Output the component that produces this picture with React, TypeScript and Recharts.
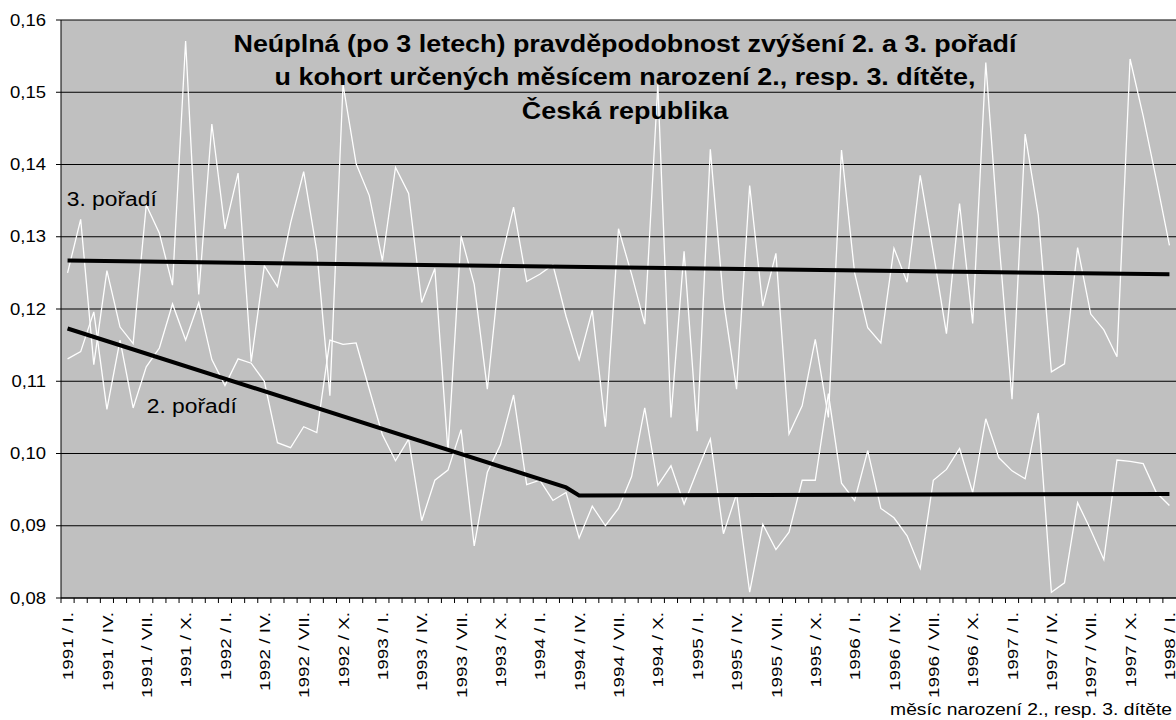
import { LineChart, Line, XAxis, YAxis, CartesianGrid } from 'recharts';

const years = [1991, 1992, 1993, 1994, 1995, 1996, 1997, 1998];
const months = ['I.', 'II.', 'III.', 'IV.', 'V.', 'VI.', 'VII.', 'VIII.', 'IX.', 'X.', 'XI.', 'XII.'];
const categories = years.flatMap(y => months.map(m => `${y} / ${m}`)).slice(0, 85);

// 3. pořadí, monthly
const third = [
  0.125, 0.1324, 0.1123, 0.1253, 0.1175, 0.1152, 0.1344, 0.1305, 0.1233, 0.1571,
  0.122, 0.1456, 0.1311, 0.1388, 0.1127, 0.126, 0.1231, 0.1319, 0.139, 0.128,
  0.108, 0.1511, 0.1401, 0.1357, 0.1267, 0.1396, 0.136, 0.1209, 0.1256, 0.1003,
  0.1301, 0.1234, 0.1089, 0.1264, 0.1341, 0.1238, 0.1248, 0.1261, 0.119, 0.113,
  0.1198, 0.1037, 0.1311, 0.1248, 0.1179, 0.1511, 0.105, 0.128, 0.1031, 0.1421,
  0.1212, 0.1089, 0.1371, 0.1204, 0.1277, 0.1027, 0.1066, 0.1158, 0.105, 0.142,
  0.125, 0.1174, 0.1153, 0.1284, 0.1237, 0.1385, 0.1278, 0.1166, 0.1346, 0.118,
  0.1541, 0.1294, 0.1075, 0.1442, 0.133, 0.1113, 0.1124, 0.1285, 0.1193, 0.1171,
  0.1134, 0.1546, 0.1467, 0.1379, 0.1288,
];

// 2. pořadí, monthly
const second = [
  0.1131, 0.1141, 0.1196, 0.1061, 0.1157, 0.1063, 0.112, 0.1146, 0.1207, 0.1157,
  0.1209, 0.113, 0.1094, 0.1131, 0.1125, 0.11, 0.1015, 0.1008, 0.1037, 0.1029,
  0.1157, 0.1151, 0.1153, 0.1089, 0.1026, 0.099, 0.102, 0.0907, 0.0963, 0.0977,
  0.1033, 0.0872, 0.0974, 0.1012, 0.1081, 0.0957, 0.0963, 0.0935, 0.0946, 0.0883,
  0.0927, 0.09, 0.0924, 0.0968, 0.1063, 0.0956, 0.0983, 0.093, 0.0976, 0.102,
  0.0889, 0.0944, 0.0808, 0.0902, 0.0867, 0.0891, 0.0963, 0.0963, 0.1083, 0.0959,
  0.0935, 0.1004, 0.0924, 0.0911, 0.0886, 0.0841, 0.0963, 0.0978, 0.1007, 0.0946,
  0.1048, 0.0994, 0.0976, 0.0965, 0.1056, 0.0808, 0.0821, 0.0932, 0.0894, 0.0853,
  0.0991, 0.0989, 0.0986, 0.0946, 0.0928,
];

// trend lines: anchor points (index into categories), straight between them
const trend3 = [
  { at: 0, value: 0.1267 },
  { at: 84, value: 0.1248 },
];
const trend2 = [
  { at: 0, value: 0.1173 },
  { at: 38, value: 0.0953 },
  { at: 39, value: 0.0942 },
  { at: 84, value: 0.0944 },
];

const yTicks = [0.08, 0.09, 0.1, 0.11, 0.12, 0.13, 0.14, 0.15, 0.16];

const titleLines = [
  'Neúplná (po 3 letech) pravděpodobnost zvýšení 2. a 3. pořadí',
  'u kohort určených měsícem narození 2., resp. 3. dítěte,',
  'Česká republika',
];

const FONT = '"Liberation Sans", Arial, sans-serif';
const BAND = 1115 / 85;

const rows = categories.map((cat, i) => ({
  cat,
  third: third[i],
  second: second[i],
  trend3: trend3.find(p => p.at === i)?.value ?? null,
  trend2: trend2.find(p => p.at === i)?.value ?? null,
}));

function XTick({ x, y, payload, index }: any) {
  const axisY = y - 15;
  return (
    <g>
      <line x1={x - BAND / 2} x2={x - BAND / 2} y1={axisY} y2={axisY + 5} stroke="#000" />
      {index % 3 === 0 && (
        <g transform={`translate(${x},${y - 1}) rotate(-90) scale(1.22,1)`}>
          <text textAnchor="end" dy="0.36em" fontSize={15.5} fontFamily={FONT} fill="#000">
            {payload.value}
          </text>
        </g>
      )}
    </g>
  );
}

function YTick({ x, y, payload }: any) {
  return (
    <g transform={`translate(${x},${y}) scale(1.17,1)`}>
      <text textAnchor="end" dy="0.36em" fontSize={15.8} fontFamily={FONT} fill="#000">
        {payload.value.toFixed(2).replace('.', ',')}
      </text>
    </g>
  );
}

export default function App() {
  return (
    <div style={{ position: 'absolute', left: 0, top: 0, width: 1176, height: 720, background: '#fff' }}>
      <LineChart width={1176} height={720} data={rows} margin={{ top: 20, right: 0, bottom: 0, left: 0 }}>
        <CartesianGrid vertical={false} stroke="#000" fill="#C0C0C0" fillOpacity={1} />
        <XAxis
          dataKey="cat"
          interval={0}
          height={122}
          tick={<XTick />}
          tickLine={false}
          tickSize={5}
          tickMargin={10}
          padding={{ left: BAND / 2, right: BAND / 2 }}
          axisLine={{ stroke: '#000' }}
        />
        <YAxis
          domain={[0.08, 0.16]}
          ticks={yTicks}
          width={61}
          tick={<YTick />}
          tickSize={5}
          tickMargin={10}
          tickLine={{ stroke: '#000' }}
          axisLine={{ stroke: '#000' }}
          allowDataOverflow
        />
        <Line dataKey="third" stroke="#fff" strokeWidth={1.3} dot={false} isAnimationActive={false} />
        <Line dataKey="second" stroke="#fff" strokeWidth={1.3} dot={false} isAnimationActive={false} />
        <Line dataKey="trend3" stroke="#000" strokeWidth={4} dot={false} connectNulls isAnimationActive={false} />
        <Line dataKey="trend2" stroke="#000" strokeWidth={4} dot={false} connectNulls isAnimationActive={false} />
      </LineChart>
      <svg
        width={1176}
        height={720}
        style={{ position: 'absolute', left: 0, top: 0, pointerEvents: 'none' }}
        fontFamily={FONT}
      >
        {titleLines.map((t, i) => (
          <text
            key={t}
            transform={`translate(625 ${51.7 + i * 33.4}) scale(1.17 1)`}
            textAnchor="middle"
            fontWeight="bold"
            fontSize={23}
            fill="#000"
          >
            {t}
          </text>
        ))}
        <text transform="translate(66.7 206) scale(1.17 1)" fontSize={19.5} fill="#000">3. pořadí</text>
        <text transform="translate(146.7 413.3) scale(1.17 1)" fontSize={19.5} fill="#000">2. pořadí</text>
        <text transform="translate(1172 715) scale(1.17 1)" textAnchor="end" fontSize={16.5} fill="#000">
          měsíc narození 2., resp. 3. dítěte
        </text>
      </svg>
    </div>
  );
}
